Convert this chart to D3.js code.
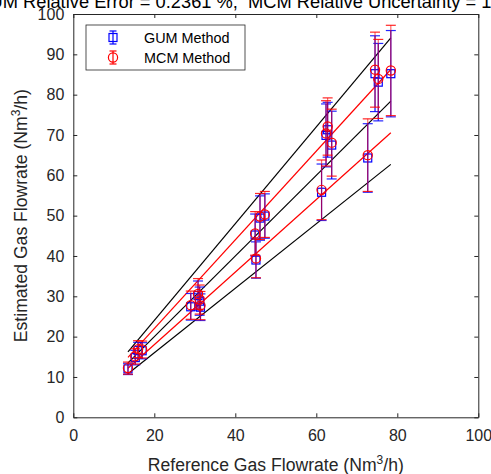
<!DOCTYPE html>
<html>
<head>
<meta charset="utf-8">
<script src="https://cdn.jsdelivr.net/npm/d3@7"></script>
<style>
  body { margin: 0; background: #fff; }
  svg { display: block; font-family: "Liberation Sans", Arial, sans-serif; }
</style>
</head>
<body>
<div id="chart"></div>
<script>
// reference flowrate (x) and estimated flowrate (y) for each test point
var refFlow = [13.5, 15.3, 16.0, 17.0, 29.0, 30.8, 31.2, 31.4, 45.1, 44.9, 46.1, 47.3,
               61.3, 62.4, 62.8, 63.8, 72.7, 74.5, 75.3, 78.4];
var gumEst  = [12.0, 14.8, 16.6, 16.5, 27.4, 30.2, 28.8, 27.3, 39.0, 45.2, 49.4, 49.9,
               55.8, 69.9, 71.3, 67.5, 64.3, 85.2, 83.1, 85.2];
var gumUnc  = [1.4, 1.8, 2.0, 2.0, 3.3, 3.6, 3.5, 3.3, 4.5, 5.2, 5.5, 5.5,
               7.0, 7.8, 6.8, 8.4, 8.5, 9.4, 9.6, 10.7];
var mcmEst  = [12.2, 15.1, 16.9, 16.8, 27.8, 30.6, 29.2, 27.7, 39.4, 45.6, 49.8, 50.3,
               56.4, 70.4, 72.1, 68.1, 65.0, 86.2, 83.9, 86.0];
var mcmUnc  = [1.5, 1.9, 2.1, 2.1, 3.5, 3.8, 3.6, 3.5, 4.8, 5.4, 5.7, 5.7,
               7.4, 8.1, 7.1, 8.3, 9.0, 9.3, 9.8, 11.2];

// reference lines y = k*x (black: 0.8, 1.0, 1.2 ; red: 0.9, 1.1)
var blackFactors = [0.8, 1.0, 1.2];
var redFactors   = [0.9, 1.1];

var xTicks = [0, 20, 40, 60, 80, 100];
var yTicks = [0, 10, 20, 30, 40, 50, 60, 70, 80, 90, 100];
var seriesNames = ["GUM Method", "MCM Method"];

var width = 491, height = 474;
var axCol = "#262626";

var svg = d3.select("#chart").append("svg")
    .attr("width", width)
    .attr("height", height);

var x = d3.scaleLinear().domain([0, 100]).range([73.3, 478.3]);
var y = d3.scaleLinear().domain([0, 100]).range([417.3, 14]);

// axes box with inward ticks
function tickAxis(axis, transform) {
  var g = svg.append("g").attr("transform", transform).call(axis);
  g.select(".domain").attr("stroke", axCol);
  g.selectAll(".tick line").attr("stroke", axCol);
  g.selectAll(".tick text").attr("fill", axCol).style("font-size", "16px")
    .style("font-family", "'Liberation Sans', Arial, sans-serif");
  return g;
}

tickAxis(d3.axisBottom(x).tickValues(xTicks).tickSizeInner(-4).tickSizeOuter(0).tickPadding(12),
  "translate(0," + y(0) + ")");
tickAxis(d3.axisTop(x).tickValues(xTicks).tickSizeInner(-4).tickSizeOuter(0).tickFormat(""),
  "translate(0," + y(100) + ")");
tickAxis(d3.axisLeft(y).tickValues(yTicks).tickSizeInner(-4).tickSizeOuter(0).tickPadding(9),
  "translate(" + x(0) + ",0)");
tickAxis(d3.axisRight(y).tickValues(yTicks).tickSizeInner(-4).tickSizeOuter(0).tickFormat(""),
  "translate(" + x(100) + ",0)");

// reference lines over the range of the data
var xMin = d3.min(refFlow), xMax = d3.max(refFlow);
function refLine(k, color) {
  svg.append("line")
    .attr("x1", x(xMin)).attr("y1", y(k * xMin))
    .attr("x2", x(xMax)).attr("y2", y(k * xMax))
    .attr("stroke", color).attr("stroke-width", 1.2);
}
blackFactors.forEach(function(k) { refLine(k, "#000"); });
redFactors.forEach(function(k) { refLine(k, "#ff0000"); });

// error bar series
function errSeries(vals, unc, color, marker, stemOpacity) {
  var g = svg.append("g");
  var pts = refFlow.map(function(r, i) { return {x: r, y: vals[i], u: unc[i]}; });
  g.selectAll(".stem").data(pts).enter().append("line")
    .attr("x1", function(d) { return x(d.x); }).attr("x2", function(d) { return x(d.x); })
    .attr("y1", function(d) { return y(d.y - d.u); }).attr("y2", function(d) { return y(d.y + d.u); })
    .attr("stroke", color).attr("stroke-width", 1.2).attr("stroke-opacity", stemOpacity);
  [-1, 1].forEach(function(s) {
    g.selectAll(".cap" + s).data(pts).enter().append("line")
      .attr("x1", function(d) { return x(d.x) - 5; }).attr("x2", function(d) { return x(d.x) + 5; })
      .attr("y1", function(d) { return y(d.y + s * d.u); }).attr("y2", function(d) { return y(d.y + s * d.u); })
      .attr("stroke", color).attr("stroke-width", 1.2).attr("stroke-opacity", 0.85);
  });
  if (marker === "square") {
    g.selectAll("rect").data(pts).enter().append("rect")
      .attr("x", function(d) { return x(d.x) - 4; }).attr("y", function(d) { return y(d.y) - 4; })
      .attr("width", 8).attr("height", 8)
      .attr("fill", "none").attr("stroke", color).attr("stroke-width", 1.2);
  } else {
    g.selectAll("circle").data(pts).enter().append("circle")
      .attr("cx", function(d) { return x(d.x); }).attr("cy", function(d) { return y(d.y); })
      .attr("r", 4.6)
      .attr("fill", "none").attr("stroke", color).attr("stroke-width", 1.2);
  }
}
errSeries(gumEst, gumUnc, "#0000ff", "square", 1);
errSeries(mcmEst, mcmUnc, "#ff0000", "circle", 0.6);

// legend
var leg = svg.append("g");
leg.append("rect").attr("x", 86).attr("y", 25).attr("width", 159).attr("height", 45)
  .attr("fill", "#fff").attr("stroke", axCol).attr("stroke-width", 0.8);
var legColors = ["#0000ff", "#ff0000"];
seriesNames.forEach(function(name, i) {
  var cy = 37.5 + i * 20, cx = 113;
  leg.append("line").attr("x1", cx).attr("x2", cx).attr("y1", cy - 6.5).attr("y2", cy + 6.5)
    .attr("stroke", legColors[i]).attr("stroke-width", 1.2);
  [-6.5, 6.5].forEach(function(o) {
    leg.append("line").attr("x1", cx - 3.5).attr("x2", cx + 3.5).attr("y1", cy + o).attr("y2", cy + o)
      .attr("stroke", legColors[i]).attr("stroke-width", 1.2);
  });
  if (i === 0) {
    leg.append("rect").attr("x", cx - 4).attr("y", cy - 4).attr("width", 8).attr("height", 8)
      .attr("fill", "none").attr("stroke", legColors[i]).attr("stroke-width", 1.2);
  } else {
    leg.append("circle").attr("cx", cx).attr("cy", cy).attr("r", 4.6)
      .attr("fill", "none").attr("stroke", legColors[i]).attr("stroke-width", 1.2);
  }
  leg.append("text").attr("x", 144).attr("y", cy + 5)
    .attr("fill", "#000").style("font-size", "14.4px").text(name);
});

// axis labels
var xl = svg.append("text").attr("x", (x(0) + x(100)) / 2).attr("y", 471)
  .attr("text-anchor", "middle").attr("fill", axCol).style("font-size", "17.6px");
xl.append("tspan").text("Reference Gas Flowrate (Nm");
xl.append("tspan").attr("dy", -7).style("font-size", "12px").text("3");
xl.append("tspan").attr("dy", 7).text("/h)");

var yl = svg.append("text")
  .attr("transform", "translate(27," + ((y(0) + y(100)) / 2) + ") rotate(-90)")
  .attr("text-anchor", "middle").attr("fill", axCol).style("font-size", "17.6px");
yl.append("tspan").text("Estimated Gas Flowrate (Nm");
yl.append("tspan").attr("dy", -7).style("font-size", "12px").text("3");
yl.append("tspan").attr("dy", 7).text("/h)");

// title (wider than the window, clipped on both sides)
var title = svg.append("text").attr("x", 0).attr("y", 7.5)
  .attr("fill", "#000").style("font-size", "18.3px").style("white-space", "pre")
  .text("GUM Relative Error = 0.2361 %,  MCM Relative Uncertainty = 1");
var off = title.node().getStartPositionOfChar(4).x;
title.attr("x", 23 - off);
</script>
</body>
</html>
